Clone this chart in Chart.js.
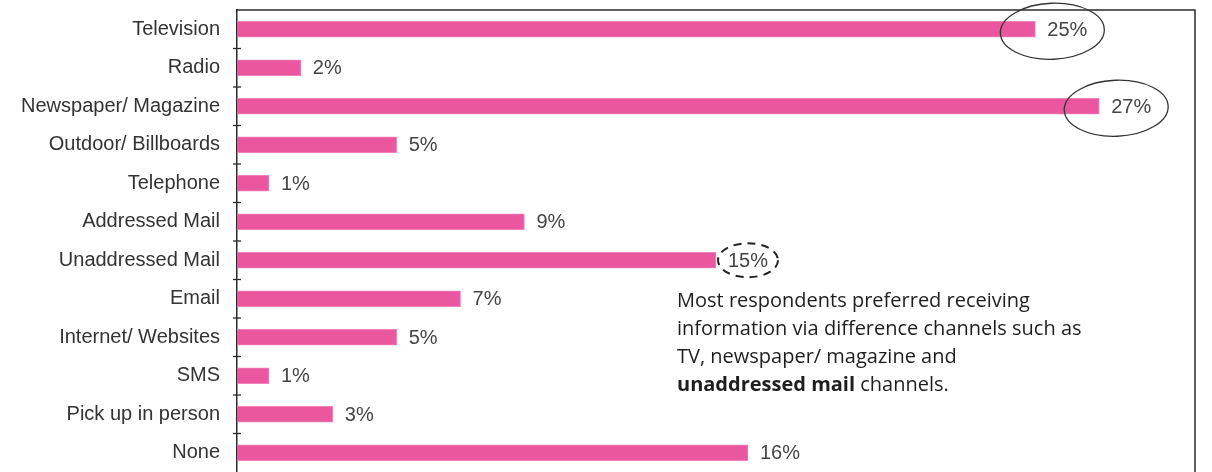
<!DOCTYPE html>
<html>
<head>
<meta charset="utf-8">
<script src="https://cdn.jsdelivr.net/npm/chart.js@4.4.1/dist/chart.umd.min.js"></script>
<style>
  html, body { margin: 0; padding: 0; background: #fff; }
  #wrap { width: 1212px; height: 472px; position: relative; }
</style>
</head>
<body>
<div id="wrap"><canvas id="channels-chart"></canvas></div>
<script>
const categories = [
  'Television', 'Radio', 'Newspaper/ Magazine', 'Outdoor/ Billboards', 'Telephone',
  'Addressed Mail', 'Unaddressed Mail', 'Email', 'Internet/ Websites', 'SMS',
  'Pick up in person', 'None'
];
const shares = [25, 2, 27, 5, 1, 9, 15, 7, 5, 1, 3, 16];
const axisMax = 30;
const circled = ['Television', 'Newspaper/ Magazine'];
const dashCircled = ['Unaddressed Mail'];
const noteLines = [
  'Most respondents preferred receiving',
  'information via difference channels such as',
  'TV, newspaper/ magazine and'
];
const noteBold = 'unaddressed mail';
const noteTail = ' channels.';

// frame, tick marks, value labels, rings and the note
const extras = {
  id: 'extras',
  afterDatasetsDraw(chart) {
    const { ctx, chartArea: a, scales: { x, y } } = chart;
    ctx.save();

    // top + right border
    ctx.strokeStyle = '#2b2b2b';
    ctx.lineWidth = 1.5;
    ctx.beginPath();
    ctx.moveTo(a.left, a.top);
    ctx.lineTo(a.right, a.top);
    ctx.lineTo(a.right, a.bottom);
    ctx.stroke();

    // little ticks across the y axis between categories
    ctx.lineWidth = 1.3;
    for (let i = 1; i < categories.length; i++) {
      const ty = (y.getPixelForValue(i - 1) + y.getPixelForValue(i)) / 2;
      ctx.beginPath();
      ctx.moveTo(a.left - 4, ty);
      ctx.lineTo(a.left + 4, ty);
      ctx.stroke();
    }

    // value labels
    ctx.font = '20px "Liberation Sans", Arial, sans-serif';
    ctx.fillStyle = '#454545';
    ctx.textBaseline = 'middle';
    ctx.textAlign = 'left';
    shares.forEach((v, i) => {
      const end = x.getPixelForValue(v);
      const cy = y.getPixelForValue(i);
      const txt = v + '%';
      const tx = end + 12;
      ctx.fillText(txt, tx, cy + 1);
      const w = ctx.measureText(txt).width;
      if (circled.includes(categories[i])) {
        ctx.save();
        ctx.strokeStyle = '#333';
        ctx.lineWidth = 1.3;
        ctx.beginPath();
        ctx.ellipse(end + 17, cy + 2, 52, 28, -0.04, 0, Math.PI * 2);
        ctx.stroke();
        ctx.restore();
      }
      if (dashCircled.includes(categories[i])) {
        ctx.save();
        ctx.strokeStyle = '#222';
        ctx.lineWidth = 2;
        ctx.setLineDash([8, 6]);
        ctx.beginPath();
        ctx.ellipse(tx + w / 2, cy, w / 2 + 10, 17, 0, 0, Math.PI * 2);
        ctx.stroke();
        ctx.restore();
      }
    });

    // note text
    ctx.fillStyle = '#1e1e1e';
    ctx.textBaseline = 'alphabetic';
    const nx = 677, ny = 307, lh = 28;
    ctx.font = '20px "Open Sans", "Noto Sans", sans-serif';
    noteLines.forEach((line, k) => ctx.fillText(line, nx, ny + k * lh));
    const by = ny + noteLines.length * lh;
    ctx.font = 'bold 20px "Open Sans", "Noto Sans", sans-serif';
    ctx.fillText(noteBold, nx, by);
    const bw = ctx.measureText(noteBold).width;
    ctx.font = '20px "Open Sans", "Noto Sans", sans-serif';
    ctx.fillText(noteTail, nx + bw, by);

    ctx.restore();
  }
};

const ctx = document.getElementById('channels-chart');
new Chart(ctx, {
  type: 'bar',
  data: {
    labels: categories,
    datasets: [{
      data: shares,
      backgroundColor: '#ea579e',
      borderColor: '#f084b8',
      borderWidth: 1,
      barThickness: 16
    }]
  },
  options: {
    indexAxis: 'y',
    responsive: true,
    maintainAspectRatio: false,
    animation: false,
    layout: { padding: { top: 10, right: 17, bottom: 0, left: 0 } },
    plugins: { legend: { display: false }, tooltip: { enabled: false } },
    scales: {
      x: {
        display: false,
        min: 0,
        max: axisMax
      },
      y: {
        grid: { display: false },
        border: { display: true, color: '#2b2b2b', width: 1.5 },
        ticks: {
          color: '#333',
          padding: 9,
          font: { family: '"Liberation Sans", Arial, sans-serif', size: 20 }
        },
        afterFit(scale) {
          scale.width = 237;
          scale.paddingTop = 0;
          scale.paddingBottom = 0;
        }
      }
    }
  },
  plugins: [extras]
});
</script>
</body>
</html>
